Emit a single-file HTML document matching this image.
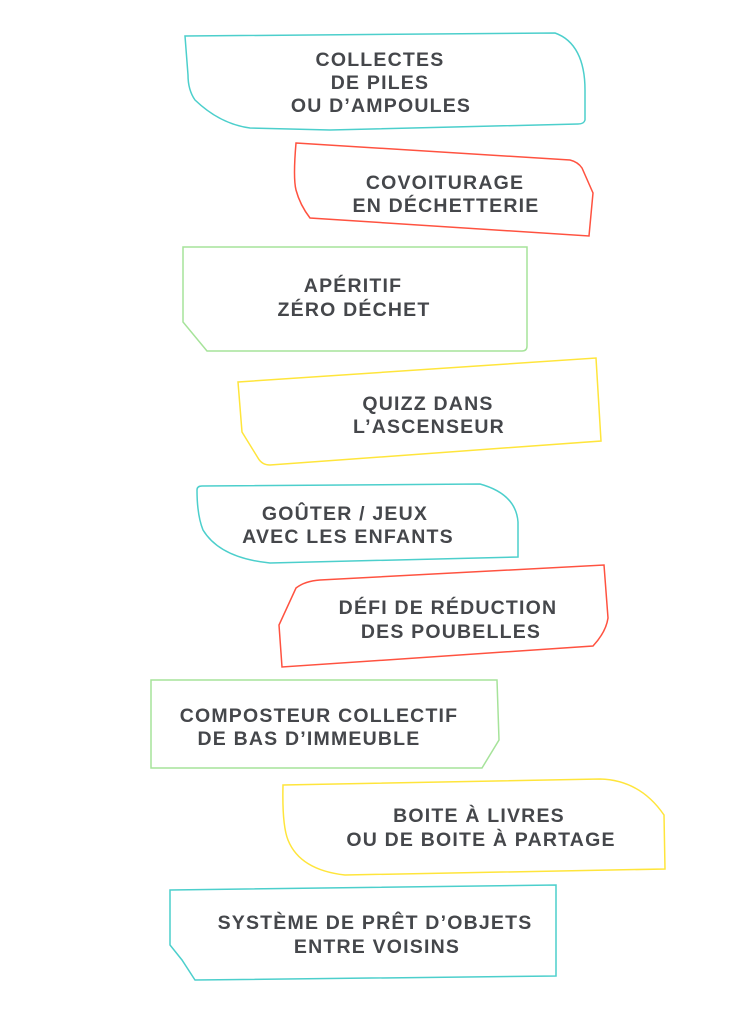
<!DOCTYPE html>
<html><head><meta charset="utf-8"><style>
html,body{margin:0;padding:0;background:#fff}
svg{display:block}
text{font-family:"Liberation Sans","DejaVu Sans",sans-serif;font-weight:bold;font-size:19.5px;fill:#45474b;text-anchor:middle;letter-spacing:1.2px}
path{fill:none;stroke-width:1.5}
</style></head><body>
<svg width="756" height="1024" viewBox="0 0 756 1024">
<path stroke="#4ccfcc" d="M185,36 L555,33 C575,40 585,60 585,90 L585,120 Q584,124 578,124 L330,130 L250,128 Q220,124 195,100 Q188,90 188,75 Z"/>
<path stroke="#ff5240" d="M296,143 L570,160 Q578,162 582,168 L593,193 L589,236 L310,218 Q300,205 296,190 Q293,178 296,143 Z"/>
<path stroke="#a6e39a" d="M183,247 L527,247 L527,346 Q527,351 522,351 L207,351 L183,322 Z"/>
<path stroke="#ffe53b" d="M238,382 L596,358 L601,441 L270,465 Q262,465 258,458 L242,432 Z"/>
<path stroke="#4ccfcc" d="M197,490 Q197,486 202,486 L480,484 Q516,494 518,522 L518,557 L270,563 Q220,558 203,530 Q197,515 197,490 Z"/>
<path stroke="#ff5240" d="M296,588 Q305,581 320,580 L604,565 L608,618 Q606,632 593,646 L282,667 L279,625 Z"/>
<path stroke="#a6e39a" d="M151,680 L497,680 L499,740 L482,768 L151,768 Z"/>
<path stroke="#ffe53b" d="M283,785 L600,779 Q640,780 664,815 L665,869 L345,875 Q300,870 288,840 Q282,825 283,785 Z"/>
<path stroke="#4ccfcc" d="M170,890 L556,885 L556,976 L195,980 L182,960 L170,945 Z"/>
<text x="380" y="66">COLLECTES</text>
<text x="380" y="89">DE PILES</text>
<text x="381" y="112">OU D’AMPOULES</text>
<text x="445" y="189">COVOITURAGE</text>
<text x="446" y="212">EN DÉCHETTERIE</text>
<text x="353" y="292">APÉRITIF</text>
<text x="354" y="316">ZÉRO DÉCHET</text>
<text x="428" y="410">QUIZZ DANS</text>
<text x="429" y="433">L’ASCENSEUR</text>
<text x="345" y="520">GOÛTER / JEUX</text>
<text x="348" y="543">AVEC LES ENFANTS</text>
<text x="448" y="614">DÉFI DE RÉDUCTION</text>
<text x="451" y="638">DES POUBELLES</text>
<text x="319" y="722">COMPOSTEUR COLLECTIF</text>
<text x="309" y="745">DE BAS D’IMMEUBLE</text>
<text x="479" y="822">BOITE À LIVRES</text>
<text x="481" y="846">OU DE BOITE À PARTAGE</text>
<text x="375" y="929">SYSTÈME DE PRÊT D’OBJETS</text>
<text x="377" y="953">ENTRE VOISINS</text>
</svg>
</body></html>
